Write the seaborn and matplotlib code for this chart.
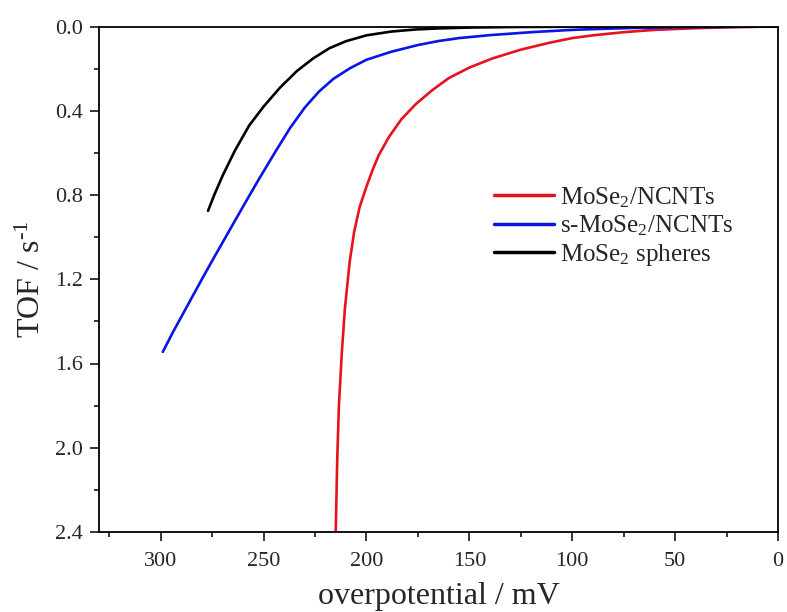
import matplotlib
matplotlib.use("Agg")
import matplotlib.pyplot as plt
from matplotlib.ticker import MultipleLocator, FormatStrFormatter
import seaborn as sns
import pandas as pd

# ---- data ----
red_mv = [0, 20, 40, 60, 75, 90, 100, 111, 125, 138.6, 150, 160, 168, 176, 183, 189,
          194, 197, 200, 203.3, 206, 208.2, 210.5, 212, 213.4, 214.2, 215]
red_tof = [0, 0.003, 0.008, 0.016, 0.027, 0.042, 0.055, 0.077, 0.11, 0.151, 0.195,
           0.245, 0.302, 0.368, 0.44, 0.523, 0.61, 0.68, 0.76, 0.856, 0.975, 1.12,
           1.34, 1.55, 1.8, 2.05, 2.42]

blue_mv = [0, 30, 50, 70, 85, 100, 120, 140, 155, 165, 175, 188, 200, 208, 216, 223,
           230, 237, 244, 252, 260, 267, 274, 280, 287, 294, 299]
blue_tof = [0, 0.002, 0.004, 0.007, 0.011, 0.016, 0.027, 0.041, 0.055, 0.069, 0.088,
            0.12, 0.158, 0.198, 0.248, 0.308, 0.385, 0.48, 0.59, 0.72, 0.855, 0.975,
            1.095, 1.20, 1.325, 1.45, 1.545]

black_mv = [0, 60, 100, 130, 150, 165, 176, 188, 200, 210, 218, 226, 234, 242, 250,
            257, 264, 270, 274, 277]
black_tof = [0, 0.0005, 0.001, 0.0025, 0.005, 0.009, 0.014, 0.024, 0.042, 0.07, 0.103,
             0.152, 0.213, 0.29, 0.38, 0.47, 0.59, 0.71, 0.80, 0.875]

series_names = ["MoSe$_2$/NCNTs", "s-MoSe$_2$/NCNTs", "MoSe$_2$ spheres"]
series_colors = ["#e8121a", "#0a14e6", "#000000"]

x_ticks = [300, 250, 200, 150, 100, 50, 0]
y_ticks = [0.0, 0.4, 0.8, 1.2, 1.6, 2.0, 2.4]

# ---- build long-form table ----
frames = []
for name, xs, ys in zip(series_names, [red_mv, blue_mv, black_mv],
                        [red_tof, blue_tof, black_tof]):
    frames.append(pd.DataFrame({"overpotential": xs, "TOF": ys, "sample": name}))
df = pd.concat(frames, ignore_index=True)

sns.set_style("white")
plt.rcParams["font.family"] = ["Liberation Serif", "DejaVu Serif"]
plt.rcParams["mathtext.fontset"] = "custom"
plt.rcParams["mathtext.rm"] = "Liberation Serif"
plt.rcParams["mathtext.it"] = "Liberation Serif:italic"
plt.rcParams["mathtext.default"] = "rm"

fig = plt.figure(figsize=(7.87, 6.12), dpi=100)
ax = fig.add_axes([99 / 787, 1 - 532 / 612, 679 / 787, 505.5 / 612])

sns.lineplot(data=df, x="overpotential", y="TOF", hue="sample",
             hue_order=series_names, palette=series_colors,
             estimator=None, sort=False, linewidth=1.9, ax=ax)
for ln in ax.get_lines():
    ln.set_solid_joinstyle("round")
    ln.set_solid_capstyle("round")

ax.set_xlim(330, 0)
ax.set_ylim(2.4, 0.0)
ax.set_xticks(x_ticks)
ax.set_yticks(y_ticks)
ax.xaxis.set_minor_locator(MultipleLocator(25))
ax.yaxis.set_minor_locator(MultipleLocator(0.2))
ax.yaxis.set_major_formatter(FormatStrFormatter("%.1f"))

ax.tick_params(axis="both", which="major", direction="out", length=6.5, width=1.1,
               labelsize=16, color="black", bottom=True, left=True, top=False,
               right=False)
ax.tick_params(axis="x", which="major", pad=8)
ax.tick_params(axis="y", which="major", pad=5)
ax.tick_params(axis="both", which="minor", direction="out", length=3.5, width=1.1,
               color="black", bottom=True, left=True, top=False, right=False)

for sp in ax.spines.values():
    sp.set_visible(True)
    sp.set_color("black")
    sp.set_linewidth(1.3)

ax.set_xlabel("overpotential / mV", fontsize=23, labelpad=8)
ax.set_ylabel(r"TOF / s$^{\text{-1}}$", fontsize=23, labelpad=6)

leg = ax.legend(loc="upper left", bbox_to_anchor=(494 / 787, 1 - 185 / 612),
                bbox_transform=fig.transFigure, frameon=False, fontsize=18,
                handlelength=2.4, handletextpad=0.25, labelspacing=0.15,
                borderpad=0, borderaxespad=0)
for line in leg.get_lines():
    line.set_linewidth(2.5)

fig.savefig("out.png", dpi=100)
